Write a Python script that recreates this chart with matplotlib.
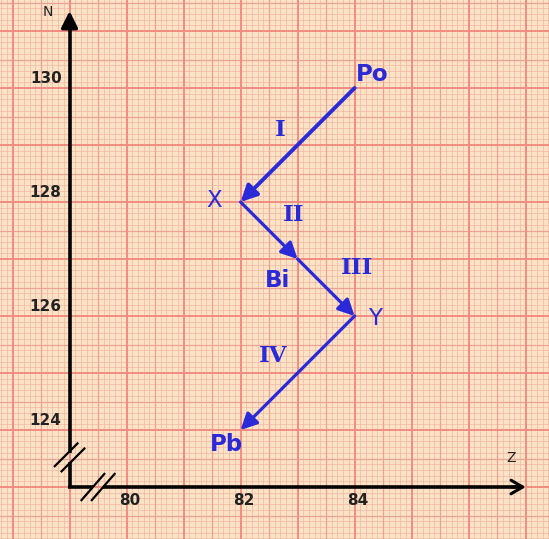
import numpy as np
import matplotlib
matplotlib.use("Agg")
import matplotlib.pyplot as plt

# Decay chain points (Z, N)
names = ["Po", "X", "Bi", "Y", "Pb"]
z_vals = [84, 82, 83, 84, 82]
n_vals = [130, 128, 127, 126, 124]
steps = ["I", "II", "III", "IV"]

# label positions (Z, N)
name_pos = [(84.30, 130.23), (81.53, 128.02), (82.65, 126.63), (84.35, 125.96), (81.75, 123.74)]
name_bold = [True, False, True, False, True]
step_pos = [(82.70, 129.26), (82.93, 127.77), (84.04, 126.84), (82.58, 125.30)]

x_ticks = [80, 82, 84]
y_ticks = [124, 126, 128, 130]

BLUE = "#2a2ad8"
BG = "#fde3c6"

fig = plt.figure(figsize=(5.49, 5.39), dpi=100)
ax = fig.add_axes([0, 0, 1, 1])
ax.set_xlim(77.78, 87.41)
ax.set_ylim(122.088, 131.544)
ax.axis("off")
ax.add_patch(plt.Rectangle((0, 0), 1, 1, transform=ax.transAxes, color=BG, zorder=0))

# graph-paper grid
for v in np.arange(77.8, 87.5, 0.1):
    ax.axvline(v, color="#f3b6a2", lw=0.5, zorder=1)
for v in np.arange(122.1, 131.6, 0.1):
    ax.axhline(v, color="#f3b6a2", lw=0.5, zorder=1)
for v in np.arange(77.5, 88, 1.0):
    ax.axvline(v, color="#eba393", lw=0.9, zorder=1)
for v in np.arange(122.5, 132, 1.0):
    ax.axhline(v, color="#eba393", lw=0.9, zorder=1)
for v in np.arange(78, 88, 1):
    ax.axvline(v, color="#f28c82", lw=1.4, zorder=1)
for v in np.arange(123, 132, 1):
    ax.axhline(v, color="#f28c82", lw=1.4, zorder=1)

# axes with break marks
x0, y0 = 79, 123
ax.plot([x0, x0], [y0, 123.44], color="black", lw=2.6, zorder=3, solid_capstyle="butt")
ax.plot([x0, x0], [123.6, 131.2], color="black", lw=2.6, zorder=3, solid_capstyle="butt")
ax.plot([x0 - 0.02, 79.42], [y0, y0], color="black", lw=2.6, zorder=3, solid_capstyle="butt")
ax.plot([79.58, 86.9], [y0, y0], color="black", lw=2.6, zorder=3, solid_capstyle="butt")
ax.annotate("", xy=(x0, 131.4), xytext=(x0, 131.0),
            arrowprops=dict(arrowstyle="-|>,head_length=0.7,head_width=0.35", color="black",
                            lw=2.6, mutation_scale=14), zorder=3)
ax.annotate("", xy=(87.05, y0), xytext=(86.7, y0),
            arrowprops=dict(arrowstyle="->,head_length=0.6,head_width=0.35", color="black",
                            lw=2.2, mutation_scale=14), zorder=3)
for dz, dn in [(-0.06, 0.045), (0.06, -0.045)]:
    ax.plot([78.8 + dz, 79.2 + dz], [123.32 + dn, 123.72 + dn], color="black", lw=1.6, zorder=4)
for dz in [-0.09, 0.09]:
    ax.plot([79.3 + dz, 79.7 + dz], [122.77, 123.23], color="black", lw=1.6, zorder=4)

ax.text(78.61, 131.33, "N", fontsize=10, color="#222", ha="center", va="center", zorder=5)
ax.text(86.75, 123.51, "Z", fontsize=10, color="#222", ha="center", va="center", zorder=5)

for t in y_ticks:
    ax.text(78.86, t + 0.17, str(t), fontsize=11, color="#222", ha="right", va="center",
            fontweight="bold", zorder=5)
for t in x_ticks:
    ax.text(t + 0.05, 122.77, str(t), fontsize=11, color="#222", ha="center", va="center",
            fontweight="bold", zorder=5)

# decay arrows
for i in range(len(steps)):
    ax.annotate("", xy=(z_vals[i + 1], n_vals[i + 1]), xytext=(z_vals[i], n_vals[i]),
                arrowprops=dict(arrowstyle="-|>,head_length=0.7,head_width=0.35",
                                color=BLUE, lw=2.8 if i == 0 else 2.3,
                                mutation_scale=14, shrinkA=0, shrinkB=0), zorder=6)

for name, (zx, ny), b in zip(names, name_pos, name_bold):
    ax.text(zx, ny, name, fontsize=16.5, color=BLUE, fontweight="bold" if b else "medium",
            ha="center", va="center", zorder=7)
for s, (zx, ny) in zip(steps, step_pos):
    ax.text(zx, ny, s, fontsize=16.5, color=BLUE, fontweight="bold", family="DejaVu Serif",
            ha="center", va="center", zorder=7)

fig.savefig("out.png", dpi=100, facecolor=BG)
